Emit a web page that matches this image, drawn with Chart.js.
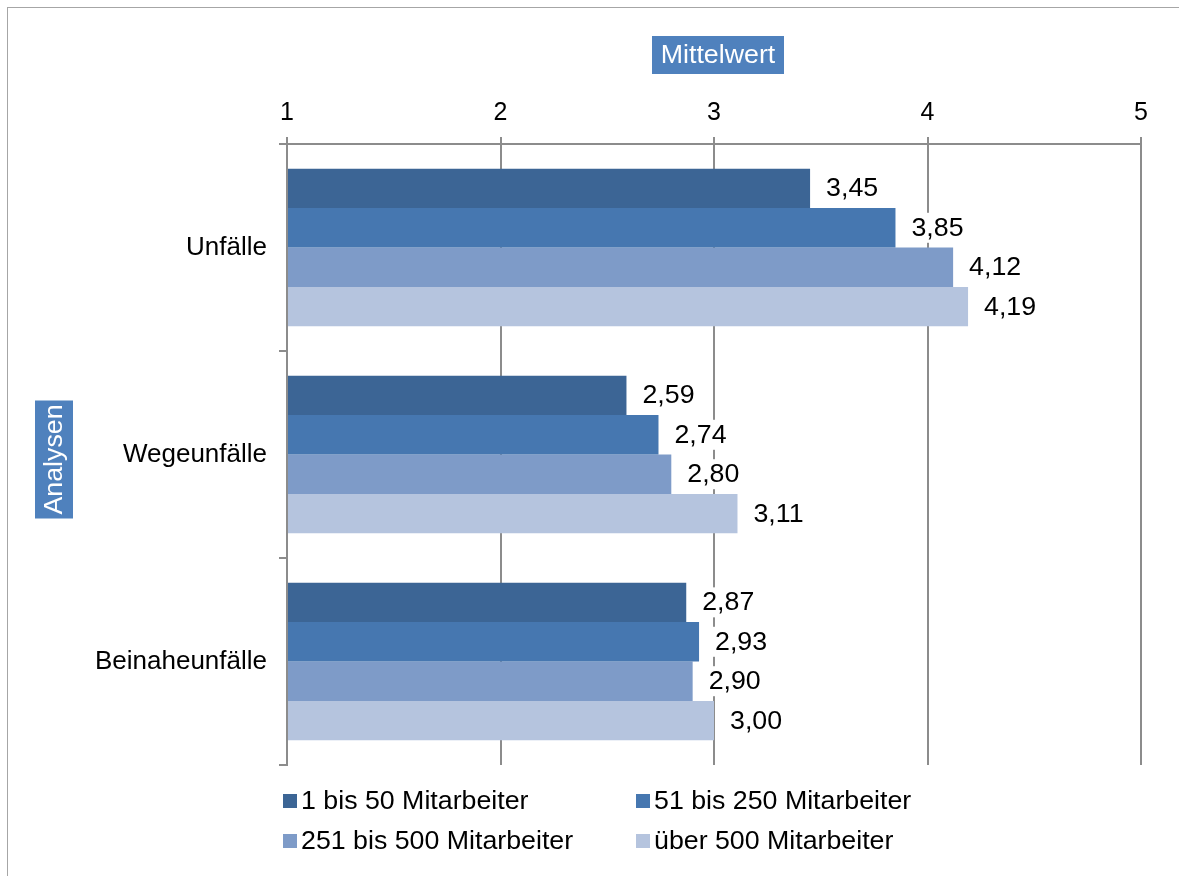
<!DOCTYPE html>
<html>
<head>
<meta charset="utf-8">
<script src="https://cdn.jsdelivr.net/npm/chart.js@4"></script>
<style>
  html, body { margin: 0; padding: 0; background: #fff; }
</style>
</head>
<body>
<canvas id="analysenChart" width="1179" height="876"></canvas>
<script>
// ## DATA ##
const categories = ["Unfälle", "Wegeunfälle", "Beinaheunfälle"];
const seriesNames = [
  "1 bis 50 Mitarbeiter",
  "51 bis 250 Mitarbeiter",
  "251 bis 500 Mitarbeiter",
  "über 500 Mitarbeiter",
];
const small = [3.45, 2.59, 2.87];
const medium = [3.85, 2.74, 2.93];
const large = [4.12, 2.8, 2.9];
const veryLarge = [4.19, 3.11, 3.0];
const tickValues = [1, 2, 3, 4, 5];

const seriesColors = ["#3C6595", "#4677B0", "#7E9BC8", "#B5C4DE"];
const gridColor = "#8C8C8C";
const font = "Liberation Sans, Arial, sans-serif";
const stretch = 1.07;

// draw text slightly wider, like the original
function wideText(ctx, text, x, y) {
  ctx.save();
  ctx.translate(x, y);
  ctx.scale(stretch, 1);
  ctx.fillText(text, 0, 0);
  ctx.restore();
}

// frame, axis title boxes
const decorations = {
  id: "decorations",
  beforeDraw(chart) {
    const ctx = chart.ctx;
    ctx.save();
    ctx.fillStyle = "#fff";
    ctx.fillRect(0, 0, chart.width, chart.height);
    ctx.strokeStyle = "#A6A6A6";
    ctx.lineWidth = 1;
    ctx.strokeRect(7.5, 7.5, 1175, 875);
    ctx.restore();
  },
  afterDraw(chart) {
    const ctx = chart.ctx;
    const area = chart.chartArea;
    ctx.save();
    // x title
    ctx.font = "25px " + font;
    const cx = (area.left + area.right) / 2 + 4;
    ctx.fillStyle = "#4F81BD";
    ctx.fillRect(cx - 66, 36, 132, 38);
    ctx.fillStyle = "#fff";
    ctx.textAlign = "center";
    ctx.textBaseline = "middle";
    wideText(ctx, "Mittelwert", cx, 56);
    // y title
    const cy = (area.top + area.bottom) / 2 + 5;
    ctx.fillStyle = "#4F81BD";
    ctx.fillRect(35, cy - 59, 38, 118);
    ctx.translate(54, cy);
    ctx.rotate(-Math.PI / 2);
    ctx.fillStyle = "#fff";
    wideText(ctx, "Analysen", 0, 1);
    ctx.restore();
  },
};

// value labels with white background
const valueLabels = {
  id: "valueLabels",
  afterDatasetsDraw(chart) {
    const ctx = chart.ctx;
    ctx.save();
    ctx.font = "25px " + font;
    ctx.textBaseline = "middle";
    chart.data.datasets.forEach((ds, i) => {
      chart.getDatasetMeta(i).data.forEach((bar, j) => {
        const text = ds.data[j].toFixed(2).replace(".", ",");
        const w = ctx.measureText(text).width * stretch;
        ctx.fillStyle = "#fff";
        ctx.fillRect(bar.x + 10, bar.y - 15, w + 14, 30);
        ctx.fillStyle = "#000";
        wideText(ctx, text, bar.x + 16, bar.y + 1);
      });
    });
    ctx.restore();
  },
};

// legend in two columns below the plot
const gridLegend = {
  id: "gridLegend",
  afterDraw(chart) {
    const ctx = chart.ctx;
    const cols = [283, 636];
    const rows = [801, 841];
    ctx.save();
    ctx.font = "25px " + font;
    ctx.textBaseline = "middle";
    chart.data.datasets.forEach((ds, i) => {
      const x = cols[i % 2];
      const y = rows[Math.floor(i / 2)];
      ctx.fillStyle = ds.backgroundColor;
      ctx.fillRect(x, y - 7, 14, 14);
      ctx.fillStyle = "#000";
      wideText(ctx, ds.label, x + 18, y + 1);
    });
    ctx.restore();
  },
};

const seriesValues = [small, medium, large, veryLarge];

const ctx = document.getElementById("analysenChart").getContext("2d");
window.analysenChart = new Chart(ctx, {
  type: "bar",
  data: {
    labels: categories,
    datasets: seriesNames.map((name, i) => ({
      label: name,
      data: seriesValues[i],
      backgroundColor: seriesColors[i],
      borderWidth: 0,
      categoryPercentage: 0.762,
      barPercentage: 1,
      base: 1,
    })),
  },
  options: {
    indexAxis: "y",
    responsive: false,
    animation: false,
    layout: {
      padding: { left: 0, top: 0, right: 38, bottom: 111 },
    },
    plugins: {
      legend: { display: false },
      tooltip: { enabled: false },
    },
    scales: {
      x: {
        position: "top",
        min: 1,
        max: 5,
        afterBuildTicks(scale) {
          scale.ticks = tickValues.map((v) => ({ value: v }));
        },
        afterFit(scale) {
          scale.height = 144;
        },
        ticks: {
          color: "#000",
          font: { family: font, size: 25 },
          padding: 9,
        },
        grid: {
          color: gridColor,
          lineWidth: 2,
          tickLength: 7,
        },
        border: { color: gridColor, width: 2 },
      },
      y: {
        afterFit(scale) {
          scale.width = 287;
        },
        ticks: {
          color: "#000",
          font: { family: font, size: 26 },
          padding: 12,
        },
        grid: {
          offset: true,
          drawOnChartArea: false,
          color: gridColor,
          lineWidth: 2,
          tickLength: 8,
        },
        border: { color: gridColor, width: 2 },
      },
    },
  },
  plugins: [decorations, valueLabels, gridLegend],
});
</script>
</body>
</html>
